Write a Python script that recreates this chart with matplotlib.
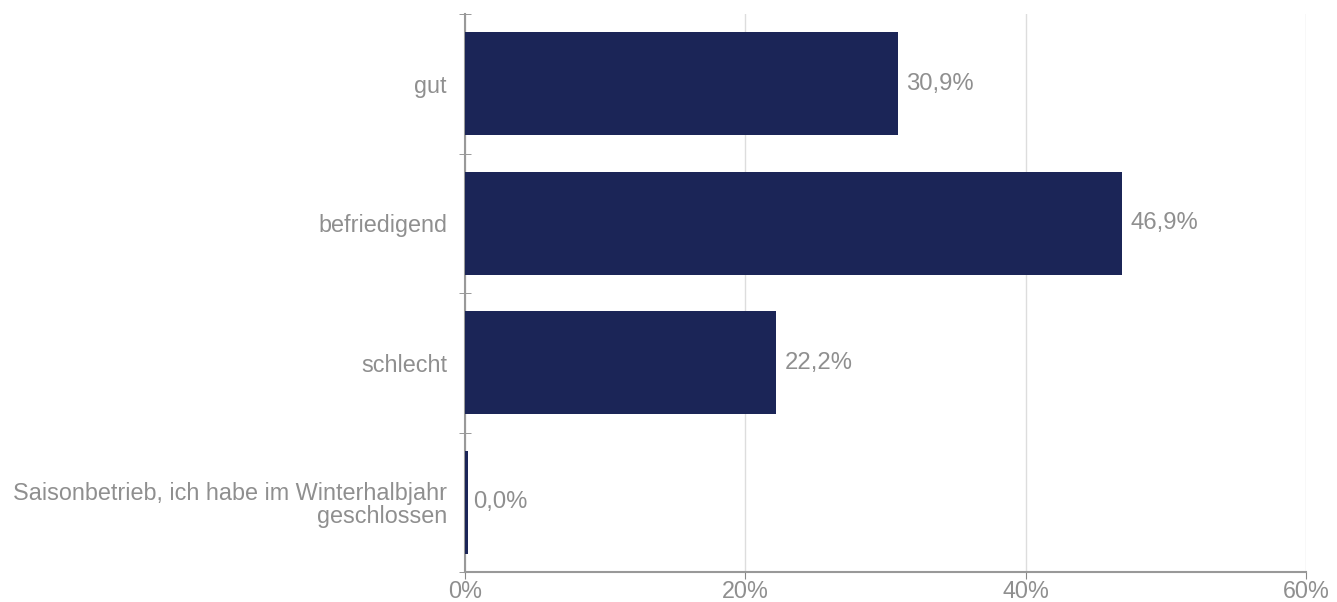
import matplotlib.pyplot as plt
import numpy as np

categories = ["gut", "befriedigend", "schlecht",
              "Saisonbetrieb, ich habe im Winterhalbjahr\ngeschlossen"]
values = [30.9, 46.9, 22.2, 0.0]
xticks = [0, 20, 40, 60]
xtick_labels = ["0%", "20%", "40%", "60%"]

plt.rcParams['font.family'] = ['Liberation Sans', 'DejaVu Sans']
grey = "#8f8f8f"
bar_color = "#1b2557"
fs = 16.8

fig = plt.figure(figsize=(13.37, 6.02), dpi=100)
ax = fig.add_axes([0.3478, 0.0498, 0.6290, 0.9269])

y = np.arange(len(categories))
# a zero bar is still drawn as a thin sliver in the original
widths = [max(v, 0.2) for v in values]
ax.barh(y, widths, height=0.74, color=bar_color, zorder=3)
for yi, v in zip(y, values):
    ax.text(v + 0.6, yi, ("%.1f%%" % v).replace(".", ","), va="center", ha="left",
            fontsize=fs + 0.4, color=grey)

ax.set_xlim(0, 60)
ax.set_ylim(len(categories) - 0.5, -0.5)
ax.set_xticks(xticks)
ax.set_xticklabels(xtick_labels)
ax.set_yticks(y)
ax.set_yticklabels(categories, fontsize=fs, color=grey, linespacing=1.0)
ax.set_yticks(np.arange(-0.5, len(categories)), minor=True)
ax.tick_params(axis="y", which="major", length=0, pad=13)
ax.tick_params(axis="y", which="minor", direction="inout", length=8, color="#888888")
ax.tick_params(axis="x", direction="out", length=5, color="#888888", labelsize=fs,
               labelcolor=grey, pad=1)
# two-line label sits a little higher in the original
ax.get_yticklabels()[-1].set_y(-0.03)

ax.grid(axis="x", color="#dddddd", linewidth=1, zorder=0)
for s in ["top", "right"]:
    ax.spines[s].set_visible(False)
ax.spines["left"].set_color("#999999")
ax.spines["bottom"].set_color("#999999")
ax.spines["left"].set_linewidth(1.5)
ax.spines["bottom"].set_linewidth(1.5)

fig.savefig("out.png", dpi=100)
